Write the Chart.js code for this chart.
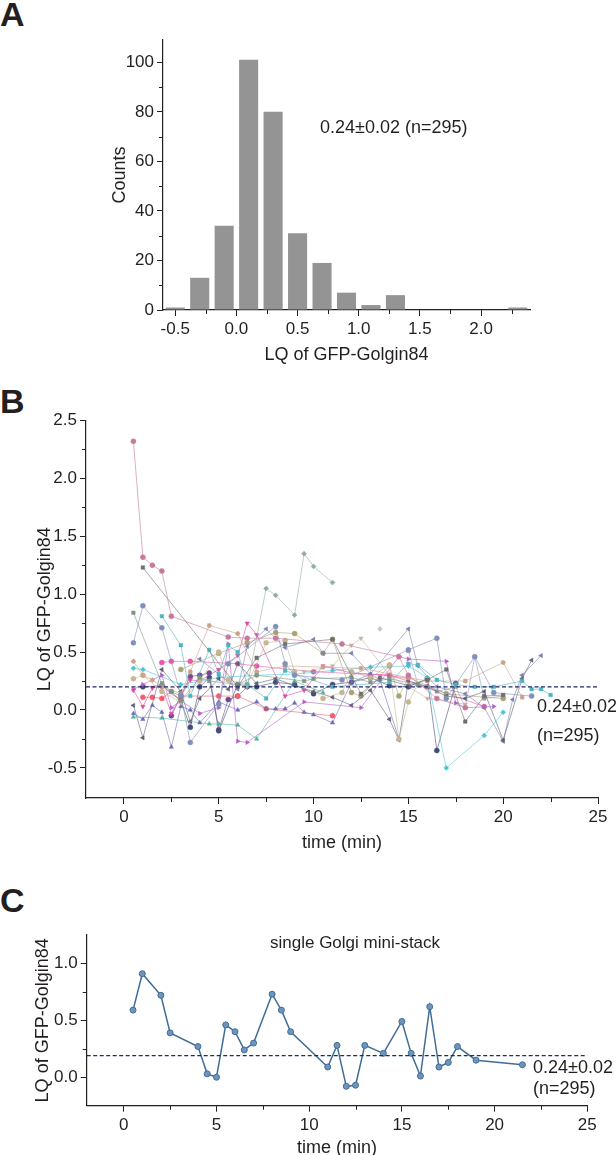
<!DOCTYPE html>
<html>
<head>
<meta charset="utf-8">
<script src="https://cdn.jsdelivr.net/npm/chart.js@4.4.1/dist/chart.umd.min.js"></script>
<style>
  html, body { margin: 0; padding: 0; background: #fff; }
  body { width: 616px; height: 1155px; position: relative; overflow: hidden;
         font-family: 'Liberation Sans', Arial, sans-serif; color: #231f20; }
  canvas { position: absolute; left: 0; }
  .lbl { position: absolute; left: 0; font-weight: bold; font-size: 34px; line-height: 34px; }
  .note { position: absolute; font-size: 18px; line-height: 18px; white-space: nowrap; }
</style>
</head>
<body>
<div class="lbl" style="top:-3px">A</div>
<div class="lbl" style="top:384px">B</div>
<div class="lbl" style="top:883px">C</div>

<canvas id="histA" width="616" height="370" style="top:0"></canvas>
<canvas id="tracesB" width="616" height="490" style="top:370px"></canvas>
<canvas id="singleC" width="616" height="290" style="top:880px"></canvas>

<div class="note" style="left:320px;top:118px">0.24±0.02 (n=295)</div>
<div class="note" style="left:537px;top:697px">0.24±0.02</div>
<div class="note" style="left:537px;top:726px">(n=295)</div>
<div class="note" style="left:270px;top:934px;font-size:17px">single Golgi mini-stack</div>
<div class="note" style="left:533px;top:1058px">0.24±0.02</div>
<div class="note" style="left:533px;top:1079px">(n=295)</div>

<script>
// ---- panel A: histogram of LQ ----
const histBins = [-0.5, -0.3, -0.1, 0.1, 0.3, 0.5, 0.7, 0.9, 1.1, 1.3, 1.5, 1.7, 1.9, 2.1, 2.3];
const histCounts = [1, 13, 34, 101, 80, 31, 19, 7, 2, 6, 0, 0, 0, 0, 1];
const histXTicks = [-0.5, -0.25, 0, 0.25, 0.5, 0.75, 1, 1.25, 1.5, 1.75, 2, 2.25];
const histYTicks = [0, 10, 20, 30, 40, 50, 60, 70, 80, 90, 100];

// ---- panel B: LQ over time, one list per mini-stack, [time (min), LQ] ----
const traceRose = [[0.5,2.32],[1,1.32],[1.5,1.25],[2,1.20],[2.5,0.81],[5.5,0.63],[6.5,0.62],[8,0.62],[11.5,0.57],[14.5,0.46],[15,0.30],[16.5,0.10],[18,0.02]];
const traceDarkSq = [[1,1.23],[6,0.20],[7,0.45],[8.5,0.57],[11,0.61],[12.5,0.14],[13.5,0.28],[15,0.21],[16,0.26],[17,0.35],[18,-0.10],[19,0.12],[20,0.13]];
const traceSage = [[6.5,0.20],[7.5,1.05],[8,0.99],[9,0.82],[9.5,1.35],[10,1.24],[11,1.10]];
const traceSlate = [[0.5,0.58],[1,0.90],[2,0.71],[3,0.13],[3.5,-0.28],[5,0.05],[5.5,0.40],[8,0.72],[8.5,0.40],[9,0.30],[11.5,0.26],[15,0.52],[16.5,0.62],[17,0.10],[18.5,0.46],[19.5,0.15],[21.5,0.12]];
const traceMossSq = [[0.5,0.84],[2,0.23],[2.5,0.16],[3,0.08],[4,0.28],[4.5,0.25],[6,0.22],[7,0.30],[9.5,0.25],[10,0.27],[12,0.28],[13,0.24],[14,0.27],[15.5,0.22],[16,0.20]];
const traceTealSq = [[2,0.81],[3,0.56],[3.5,0.12],[4.5,0.52],[5,0.31],[5.5,0.56],[6,0.50],[6.5,0.22],[7.5,0.10],[8.5,0.34],[11,0.20],[14,0.24],[15,0.40],[15.5,0.39],[16.5,0.26],[17.5,0.22],[18.5,0.20],[19.5,0.20],[21,0.25],[21.5,0.18],[22,0.18],[22.5,0.13]];
const traceTanStar = [[0.5,0.42],[1,0.30],[1.5,0.26],[2,0.20],[3,0.14],[3.5,0.33],[4.5,0.73],[6,0.66],[7,0.33],[8.5,0.38],[10.5,0.37],[12.5,0.36],[15,0.28],[16,0.25],[18,0.25],[20,0.41],[21,0.11]];
const traceTanDot = [[0.5,0.27],[1,0.30],[2,0.16],[3,0.07],[4,0.25],[5,0.50],[5.5,0.26],[6.5,0.22],[7.5,0.58],[8.5,0.60],[9,0.33],[10.5,0.10],[11.5,0.15],[12,0.33],[13,0.28],[14,0.39],[14.5,-0.25],[15,0.07],[15.5,0.22]];
const traceMagenta = [[0.5,0.17],[1,0.03],[1.5,0.19],[2,0.20],[2.5,-0.03],[3.5,0.26],[4,0.25],[5,0.35],[6,0.47],[6.5,0.75],[7,0.65],[8.5,0.12],[9.5,0.17],[10.5,0.38],[12,0.32],[14,0.30],[15,0.27]];
const traceViolet = [[0.5,0.18],[1,0.22],[2,0.30],[2.5,0.02],[3,0.08],[4,-0.03],[5,0.02],[5.5,0.57],[6,-0.27],[6.5,-0.28],[9.5,0.07],[12.5,0.02],[14.5,0.46],[15,0.44],[17,0.42],[17.5,0.06],[18,0.02],[19.5,0.03]];
const traceIndigo = [[0.5,-0.03],[1,-0.08],[1.5,0.04],[2,-0.02],[2.5,-0.32],[3,0.03],[3.5,0.00],[4,-0.11],[5,0.07],[6,0.00],[7,0.07],[7.5,0.01],[8,0.01],[8.5,0.01],[9,0.06],[9.5,-0.02],[10,-0.04],[11,-0.11],[12,0.24],[13,0.31],[13.5,0.26],[14.5,-0.25]];
const traceMint = [[0.5,-0.06],[2,-0.07],[4.5,-0.12],[5,-0.12],[6,-0.13],[7,-0.25],[9,0.25],[10.5,0.15]];
const traceCharcoal = [[0.5,0.04],[1,-0.24],[2,0.35],[3,0.16],[3.5,-0.10],[4,0.10],[5,0.27],[5.5,0.18],[6,0.40],[7,0.23],[8,0.27],[9,0.21],[10,0.16],[11,0.11],[12,0.04],[13,0.17],[14,-0.08],[14.5,-0.26],[15,0.25],[16,0.20],[17,0.12],[18,0.10],[19,0.16],[20,-0.26],[21,0.27],[21.5,0.43]];
const traceCoral = [[1,0.11],[1.5,0.11],[2,0.10],[2.5,0.16],[3,0.12],[5,0.12],[6,0.12],[7.5,0.01],[11,-0.05]];
const traceCyan = [[0.5,0.36],[1,0.35],[3,0.22],[5,0.28],[7,0.30],[9,0.31],[11,0.34],[13,0.37],[15,0.38],[16,0.28],[17,-0.50],[19,-0.22],[20,-0.02]];
const traceNavy = [[1,0.20],[2,0.21],[3,0.08],[3.5,-0.15],[4,0.20],[4.5,0.28],[5,-0.18],[6,0.22],[7,0.20],[8,0.24],[9,0.22],[10,0.14],[11,0.22],[12,0.24],[13,0.28],[14,0.21],[15,0.20],[16,0.27],[16.5,-0.35],[17.5,0.23]];
const traceBlueLeft = [[4,0.44],[6,0.18],[6.5,0.55],[7.5,0.70],[8.5,0.54],[10,0.61],[10.5,0.49],[12,0.49],[13,0.31],[15,0.70],[15.5,0.38],[16.5,0.20],[18,0.14],[19,0.02],[20,-0.27],[20.5,0.09],[21,0.30],[22,0.47]];
const traceSand = [[9.5,0.33],[11,0.38],[12,0.56],[12.5,0.62],[14,0.30],[16,0.10],[18,0.05]];
const traceSilver = [[13.5,0.70]];
const traceGraySq = [[15,0.51],[15.5,0.22],[16.5,0.16],[17.5,0.20],[18,0.02],[18.5,0.46],[19,0.10],[20,0.12]];
const traceOlive = [[3,0.35],[5,0.49],[6.5,0.58],[8,0.67],[9,0.66],[10.5,0.49],[11,0.61],[12,0.15],[12.5,0.12],[14,0.38],[14.5,0.12],[15,0.28],[17,0.14],[19,0.11],[20,0.10]];
const tracePlum = [[2.5,-0.05],[3,0.12],[3.5,0.29],[4,0.30],[4.5,0.32],[5,-0.17],[5.5,0.09],[6,0.12],[6.5,0.20]];
const tracePink = [[2,0.41],[2.5,0.42],[3.5,0.42],[6,0.40],[7,0.38],[10,0.33],[14,0.30],[16,0.20],[19,0.03]];
const meanLineB = 0.2;
const timeTicks = [0, 2.5, 5, 7.5, 10, 12.5, 15, 17.5, 20, 22.5, 25];
const lqTicksB = [-0.5, -0.25, 0, 0.25, 0.5, 0.75, 1, 1.25, 1.5, 1.75, 2, 2.25, 2.5];

// ---- panel C: single Golgi mini-stack ----
const singleTime = [0.5, 1, 2, 2.5, 4, 4.5, 5, 5.5, 6, 6.5, 7, 8, 8.5, 9, 11, 11.5, 12, 12.5, 13, 14, 15, 15.5, 16, 16.5, 17, 17.5, 18, 19, 21.5];
const singleLQ = [0.59, 0.91, 0.72, 0.39, 0.27, 0.03, 0.00, 0.46, 0.40, 0.24, 0.30, 0.73, 0.59, 0.40, 0.09, 0.28, -0.08, -0.07, 0.28, 0.21, 0.49, 0.21, 0.01, 0.62, 0.09, 0.13, 0.27, 0.15, 0.11];
const meanLineC = 0.19;
const lqTicksC = [0, 0.25, 0.5, 0.75, 1];

// trace look: [data, colour, marker, rotation]
const traceStyles = [
  [traceRose, '#c7789c', 'circle', 0],
  [traceDarkSq, '#6e6e70', 'rect', 0],
  [traceSage, '#8fae9c', 'rectRot', 0],
  [traceSlate, '#8190b8', 'circle', 0],
  [traceMossSq, '#7d9686', 'rect', 0],
  [traceTealSq, '#4db4be', 'rect', 0],
  [traceTanStar, '#c9a28a', 'star', 0],
  [traceTanDot, '#c7b593', 'circle', 0],
  [traceMagenta, '#e2479f', 'triangle', 180],
  [traceViolet, '#b75ec6', 'triangle', 90],
  [traceIndigo, '#6d6cb6', 'triangle', 0],
  [traceMint, '#4fb7a0', 'triangle', 0],
  [traceCharcoal, '#5d6272', 'triangle', 270],
  [traceCoral, '#f2606f', 'circle', 0],
  [traceCyan, '#4dc7d7', 'rectRot', 0],
  [traceNavy, '#444a78', 'circle', 0],
  [traceBlueLeft, '#7a80b2', 'triangle', 270],
  [traceSand, '#cbb2a2', 'triangle', 180],
  [traceSilver, '#c6c6c6', 'rectRot', 0],
  [traceGraySq, '#9a9bab', 'rect', 0],
  [traceOlive, '#aaa272', 'circle', 0],
  [tracePlum, '#6b4b92', 'circle', 0],
  [tracePink, '#e65aaa', 'circle', 0]
];

const INK = '#231f20';
Chart.defaults.font.family = "'Liberation Sans', Arial, sans-serif";
Chart.defaults.font.size = 17;
Chart.defaults.color = INK;

// unlabelled ticks get a shorter mark, drawn here
const minorTicks = {
  id: 'minorTicks',
  afterDraw(chart) {
    const ctx = chart.ctx;
    ctx.save();
    ctx.strokeStyle = INK;
    ctx.lineWidth = 1;
    Object.values(chart.scales).forEach(s => {
      s.ticks.forEach(t => {
        if (t.label !== '') return;
        const p = Math.round(s.getPixelForValue(t.value)) + 0.5;
        ctx.beginPath();
        if (s.isHorizontal()) { ctx.moveTo(p, s.top); ctx.lineTo(p, s.top + 4); }
        else { ctx.moveTo(s.right, p); ctx.lineTo(s.right - 4, p); }
        ctx.stroke();
      });
    });
    ctx.restore();
  }
};

function axis(o) {
  return {
    type: 'linear', min: o.min, max: o.max, offset: false,
    border: { display: true, color: INK, width: 1.2 },
    grid: { drawOnChartArea: false, drawTicks: true, tickLength: 6, offset: false,
            tickColor: c => (c.tick && c.tick.label === '' ? 'rgba(0,0,0,0)' : INK) },
    ticks: { autoSkip: false, padding: 3, maxRotation: 0, callback: o.label },
    title: { display: true, text: o.title, font: { size: 18 }, padding: o.pad },
    afterBuildTicks: s => { s.ticks = o.ticks.map(v => ({ value: v })); },
    afterFit: s => { if (s.isHorizontal()) s.height = o.size; else s.width = o.size; }
  };
}
const every = step => v => (Math.abs(v / step - Math.round(v / step)) < 1e-6 ? v : '');
const halfLabel = v => (Math.abs(v * 2 - Math.round(v * 2)) < 1e-6 ? v.toFixed(1) : '');
const baseOpts = { responsive: false, animation: false,
  plugins: { legend: { display: false }, tooltip: { enabled: false } } };

// A
new Chart(document.getElementById('histA'), {
  type: 'bar',
  data: { datasets: [{
    data: histBins.map((b, i) => ({ x: b, y: histCounts[i] })),
    backgroundColor: '#949494', borderWidth: 0, barPercentage: 0.78, categoryPercentage: 1
  }] },
  options: { ...baseOpts,
    layout: { padding: { left: 0, top: 40, right: 86, bottom: 0 } },
    scales: {
      x: axis({ min: -0.6, max: 2.4, ticks: histXTicks, label: halfLabel, title: 'LQ of GFP-Golgin84',
                pad: { top: 0, bottom: 4 }, size: 60 }),
      y: axis({ min: 0, max: 109, ticks: histYTicks, label: every(20), title: 'Counts',
                pad: { top: 109, bottom: 0 }, size: 163 })
    }
  },
  plugins: [minorTicks]
});

// B
const meanDash = (v) => ({
  data: [{ x: -2, y: v }, { x: 25, y: v }], borderColor: '#1f2a6e', borderWidth: 1.3,
  borderDash: [4, 2.5], pointRadius: 0
});
new Chart(document.getElementById('tracesB'), {
  type: 'line',
  data: { datasets: [meanDash(meanLineB)].concat(traceStyles.map(([d, c, m, r]) => ({
    data: d.map(p => ({ x: p[0], y: p[1] })),
    borderColor: c + 'bb', borderWidth: 0.8, tension: 0,
    pointStyle: m, pointRotation: r, pointRadius: 2.5,
    pointBackgroundColor: c, pointBorderColor: c, pointBorderWidth: m === 'star' ? 1.2 : 0.5
  }))) },
  options: { ...baseOpts,
    layout: { padding: { left: 0, top: 50.5, right: 18, bottom: 0 } },
    scales: {
      x: axis({ min: -2, max: 25, ticks: timeTicks, label: every(5), title: 'time (min)',
                pad: { top: 0, bottom: 6 }, size: 62 }),
      y: axis({ min: -0.76, max: 2.5, ticks: lqTicksB, label: halfLabel, title: 'LQ of GFP-Golgin84',
                pad: { top: 34, bottom: 0 }, size: 86 })
    }
  },
  plugins: [minorTicks]
});

// C
new Chart(document.getElementById('singleC'), {
  type: 'line',
  data: { datasets: [meanDash(meanLineC), {
    data: singleTime.map((t, i) => ({ x: t, y: singleLQ[i] })),
    borderColor: '#3f6d96', borderWidth: 1.5, tension: 0,
    pointRadius: 3, pointBackgroundColor: '#6f95bd', pointBorderColor: '#3f6d96', pointBorderWidth: 1
  }] },
  options: { ...baseOpts,
    layout: { padding: { left: 0, top: 55, right: 28.7, bottom: 0 } },
    scales: {
      x: axis({ min: -2, max: 25, ticks: timeTicks, label: every(5), title: 'time (min)',
                pad: { top: 0, bottom: 11 }, size: 64.3 }),
      y: axis({ min: -0.25, max: 1.25, ticks: lqTicksC, label: halfLabel, title: 'LQ of GFP-Golgin84',
                pad: { top: 32, bottom: 0 }, size: 86.7 })
    }
  },
  plugins: [minorTicks]
});
</script>
</body>
</html>
